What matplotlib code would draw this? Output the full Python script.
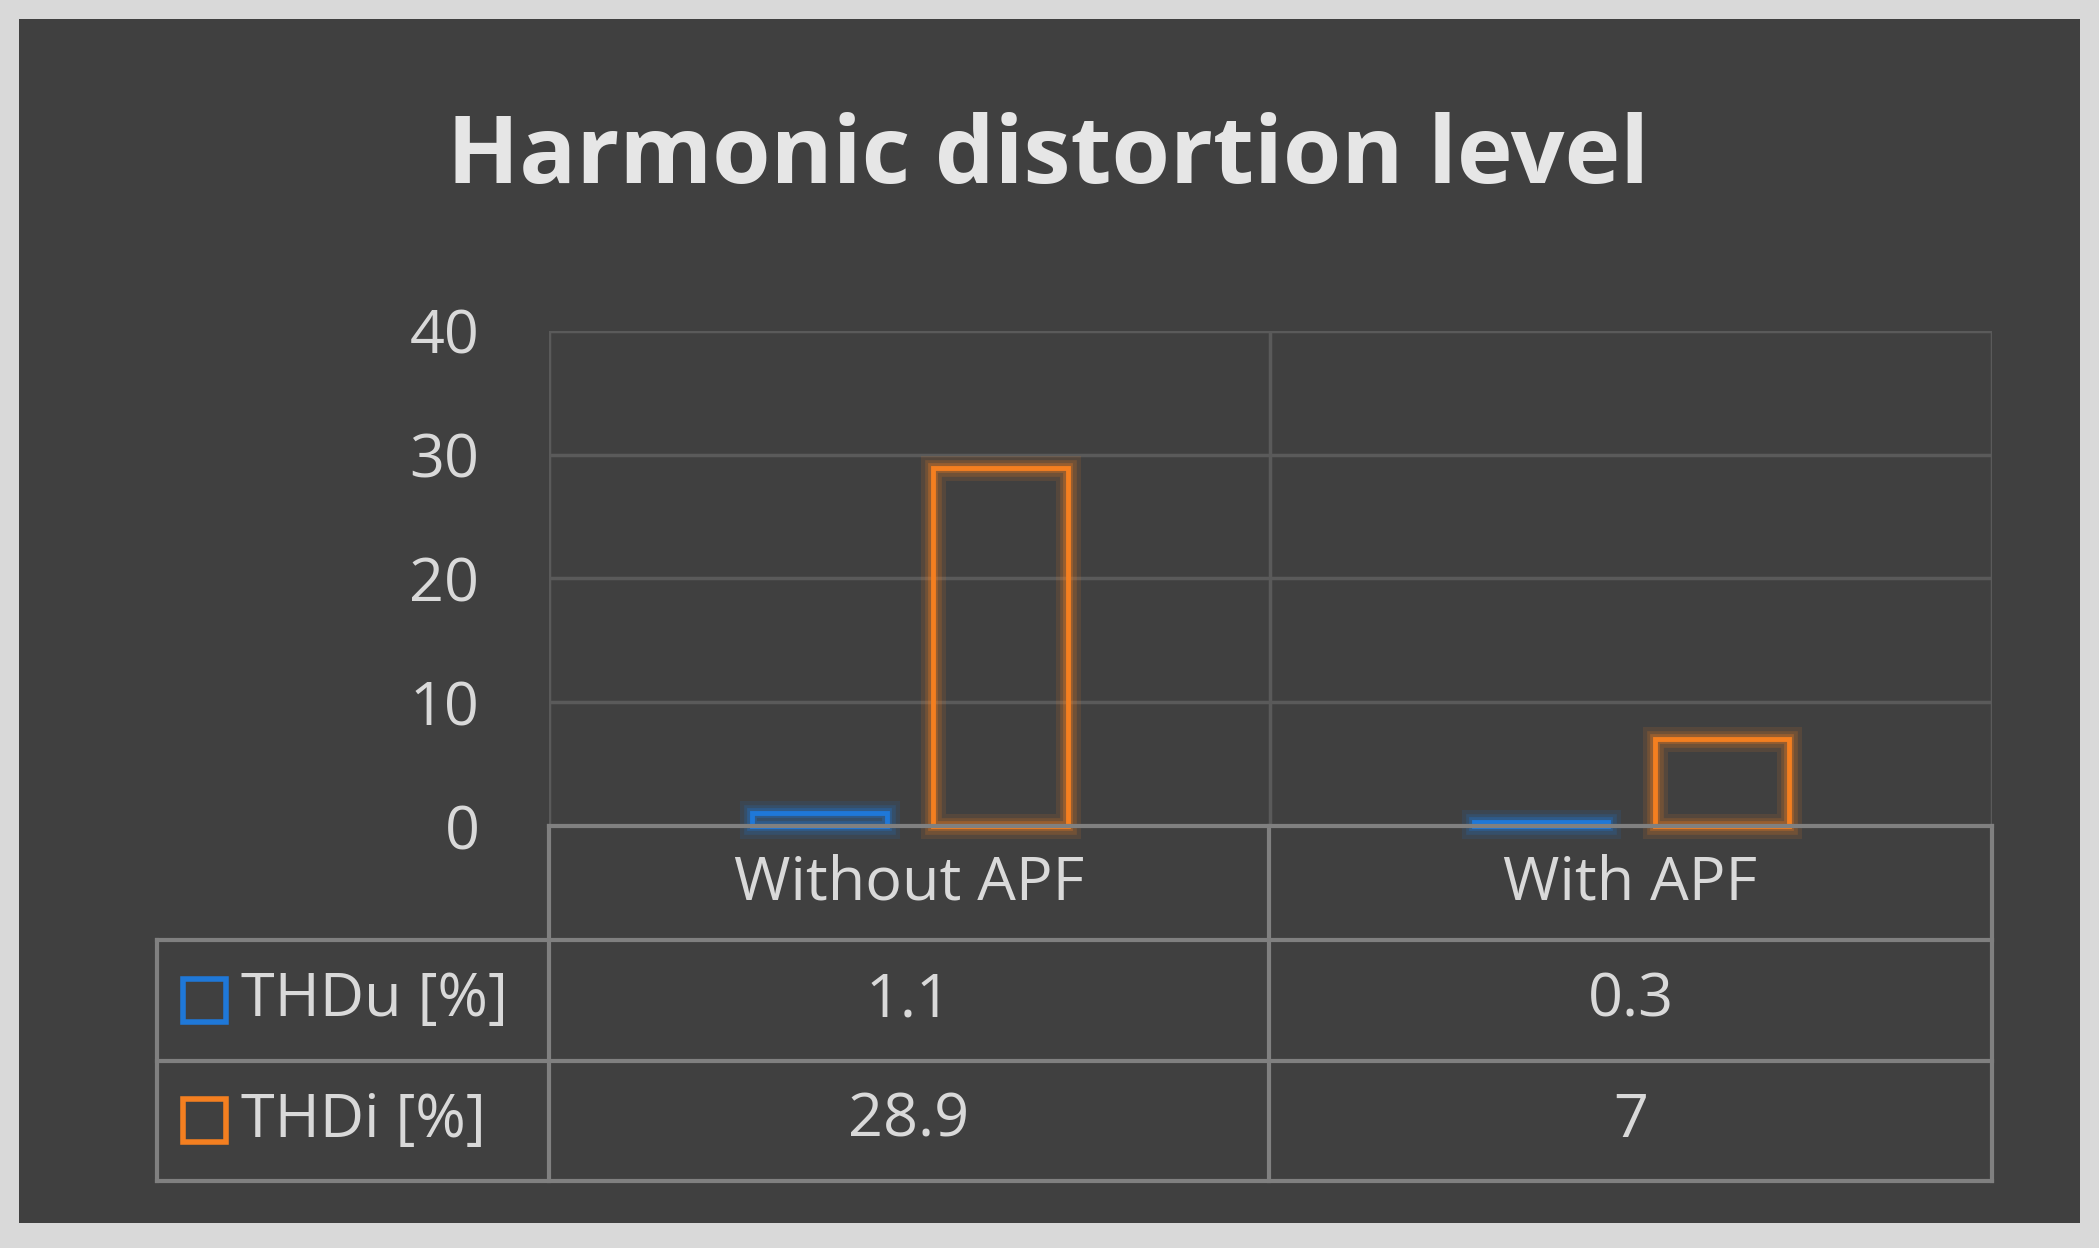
import matplotlib
matplotlib.use("Agg")
import matplotlib.pyplot as plt
from matplotlib.patches import Rectangle
from matplotlib.lines import Line2D

categories = ["Without APF", "With APF"]
series_names = ["THDu [%]", "THDi [%]"]
thdu = [1.1, 0.3]
thdi = [28.9, 7]
series_values = [thdu, thdi]
value_labels = [["1.1", "0.3"], ["28.9", "7"]]
colors = ["#1f78d8", "#f47f20"]
yticks = [0, 10, 20, 30, 40]

W, H = 1568.0, 932.0
def fx(x): return x / W
def fy(y): return 1 - y / H

fig = plt.figure(figsize=(20.99, 12.48), dpi=100)
fig.patch.set_facecolor("#d9d9d9")
fig.patches.append(Rectangle((fx(14), fy(913)), fx(1554) - fx(14), fy(14) - fy(913),
                             transform=fig.transFigure, facecolor="#404040", edgecolor="none", zorder=-10))
font = "Open Sans"
txtc = "#d9d9d9"
fs = 44
fig.text(fx(783), fy(118), "Harmonic distortion level", ha="center", va="center",
         fontsize=68, fontweight="bold", color="#e6e6e6", family=font)

x0, x1, ytop, ybot = 410, 1488, 247, 617
ax = fig.add_axes([fx(x0), fy(ybot), fx(x1) - fx(x0), fy(ytop) - fy(ybot)])
ax.set_zorder(5)
ax.set_facecolor("none")
ax.set_xlim(0, 2)
ax.set_ylim(0, 40)
for s in ax.spines.values():
    s.set_visible(False)
ax.set_xticks([])
ax.set_yticks(yticks)
ax.set_yticklabels([str(t) for t in yticks], fontsize=fs, color=txtc, family=font)
ax.tick_params(axis="y", length=0, pad=50)
for t in yticks:
    ax.axhline(t, color="#5a5a5a", lw=2.5, zorder=1)
for xv in [0, 1, 2]:
    ax.axvline(xv, color="#5a5a5a", lw=2.5, zorder=1)

bw = 0.186
offsets = [-0.125, 0.126]
for si, vals in enumerate(series_values):
    for ci, v in enumerate(vals):
        xc = ci + 0.5 + offsets[si]
        for lw, a in [(18, 0.12), (12, 0.18), (7, 0.3)]:
            ax.add_patch(Rectangle((xc - bw / 2, 0), bw, v, fill=False, edgecolor=colors[si],
                                   lw=lw, alpha=a, zorder=2, clip_on=False))
        ax.add_patch(Rectangle((xc - bw / 2, 0), bw, v, fill=False, edgecolor=colors[si],
                               lw=3.5, zorder=3, clip_on=False))

# table
lc = "#808080"
lw = 3
def hline(y, xa, xb):
    fig.lines.append(Line2D([fx(xa), fx(xb)], [fy(y), fy(y)], transform=fig.transFigure, color=lc, lw=lw, zorder=6))
def vline(x, ya, yb):
    fig.lines.append(Line2D([fx(x), fx(x)], [fy(ya), fy(yb)], transform=fig.transFigure, color=lc, lw=lw, zorder=6))
rows = [617, 702, 792, 882]
hline(617, 410, 1488)
for y in rows[1:]:
    hline(y, 117, 1488)
vline(117, 702, 882)
for x in [410, 948, 1488]:
    vline(x, 617, 882)
cx = [679, 1218]
for i, c in enumerate(categories):
    fig.text(fx(cx[i]), fy(660), c, ha="center", va="center", fontsize=fs, color=txtc, family=font)
for si in range(2):
    yc = (rows[si + 1] + rows[si + 2]) / 2
    fig.patches.append(Rectangle((fx(137), fy(yc + 16)), fx(32), fy(0) - fy(32), transform=fig.transFigure,
                                 fill=False, edgecolor=colors[si], lw=4))
    fig.text(fx(180), fy(yc), series_names[si], ha="left", va="center", fontsize=fs, color=txtc, family=font)
    for ci in range(2):
        fig.text(fx(cx[ci]), fy(yc), value_labels[si][ci], ha="center", va="center",
                 fontsize=fs, color=txtc, family=font)

fig.savefig("out.png", dpi=100, facecolor=fig.get_facecolor())
